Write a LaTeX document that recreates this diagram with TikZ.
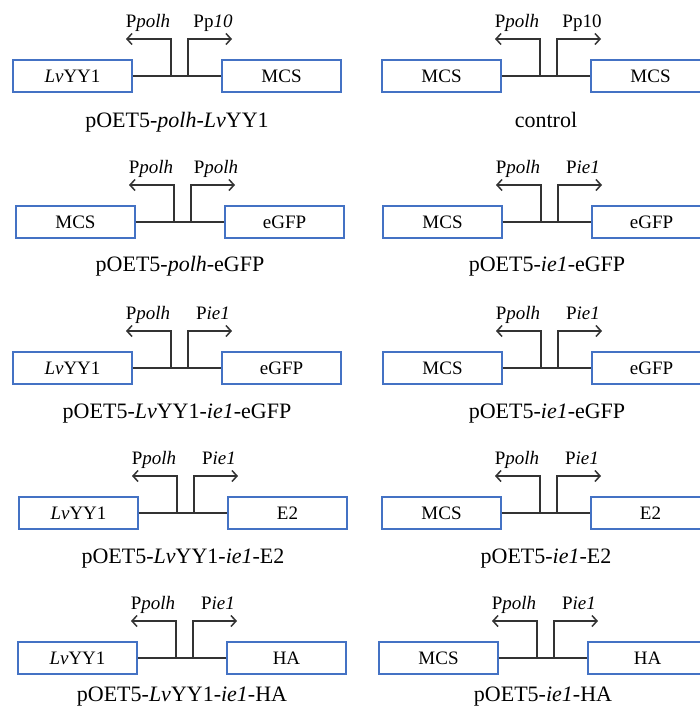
\documentclass[tikz,border=0pt]{standalone}
\usepackage{fontspec}
\setmainfont{Liberation Serif}
\usepackage{tikz}
\usetikzlibrary{arrows.meta}
\usetikzlibrary{positioning}

\begin{document}
\begin{tikzpicture}[x=1pt,y=-1pt]
% définition des paramètres
\definecolor{bleuboite}{RGB}{68,114,196}
\tikzstyle boitemichael=[draw=bleuboite,line width=1.3pt,fill=white,minimum width=119pt,minimum height=32pt,inner sep=0pt,font=\fontsize{19}{22}\selectfont]
\tikzstyle lignemichael=[color=black!80,line width=1.5pt]
\tikzstyle flechemichael=[color=black!80,line width=1.5pt,-{Straight Barb[length=5pt,width=11pt]}]
\tikzstyle etiqmichael=[anchor=base,inner sep=0pt,font=\fontsize{19}{22}\selectfont]
\tikzstyle legendemichael=[anchor=base,inner sep=0pt,font=\fontsize{22}{26}\selectfont]
% #1 nom, #2 abscisse de la boîte de gauche, #3 ordonnée de la ligne
\newcommand{\construit}[9]{%
  \node[boitemichael] (#1g) at (#2+59.5,#3) {#4};
  \node[boitemichael] (#1d) at (#2+268.5,#3) {#5};
  \draw[lignemichael] (#1g) -- (#1d);
  \coordinate (#1va) at (#2+158,#3);
  \coordinate (#1vb) at (#2+175,#3);
  \coordinate (#1fg) at (#2+113,#3-37);
  \coordinate (#1fd) at (#2+219,#3-37);
  \draw[flechemichael] (#1va) |- (#1fg);
  \draw[flechemichael] (#1vb) |- (#1fd);
  \node[etiqmichael] (#1eg) at (#2+135,#3-49) {#6};
  \node[etiqmichael] (#1ed) at (#2+200,#3-49) {#7};
  \node[legendemichael] (#1leg) at (#2+164,#3+#9) {#8};
}
\useasboundingbox (0,0) rectangle (699,707);
% colonne de gauche
\construit{ga}{13}{76}{\textit{Lv}YY1}{MCS}{P\textit{polh}}{Pp\textit{10}}{pOET5-\textit{polh}-\textit{Lv}YY1}{51}
\construit{gb}{16}{222}{MCS}{eGFP}{P\textit{polh}}{P\textit{polh}}{pOET5-\textit{polh}-eGFP}{49}
\construit{gc}{13}{368}{\textit{Lv}YY1}{eGFP}{P\textit{polh}}{P\textit{ie1}}{pOET5-\textit{Lv}YY1-\textit{ie1}-eGFP}{50}
\construit{gd}{19}{513}{\textit{Lv}YY1}{E2}{P\textit{polh}}{P\textit{ie1}}{pOET5-\textit{Lv}YY1-\textit{ie1}-E2}{50}
\construit{ge}{18}{658}{\textit{Lv}YY1}{HA}{P\textit{polh}}{P\textit{ie1}}{pOET5-\textit{Lv}YY1-\textit{ie1}-HA}{43}
% colonne de droite
\construit{da}{382}{76}{MCS}{MCS}{P\textit{polh}}{Pp10}{control}{51}
\construit{db}{383}{222}{MCS}{eGFP}{P\textit{polh}}{P\textit{ie1}}{pOET5-\textit{ie1}-eGFP}{49}
\construit{dc}{383}{368}{MCS}{eGFP}{P\textit{polh}}{P\textit{ie1}}{pOET5-\textit{ie1}-eGFP}{50}
\construit{dd}{382}{513}{MCS}{E2}{P\textit{polh}}{P\textit{ie1}}{pOET5-\textit{ie1}-E2}{50}
\construit{de}{379}{658}{MCS}{HA}{P\textit{polh}}{P\textit{ie1}}{pOET5-\textit{ie1}-HA}{43}
\end{tikzpicture}
\end{document}
